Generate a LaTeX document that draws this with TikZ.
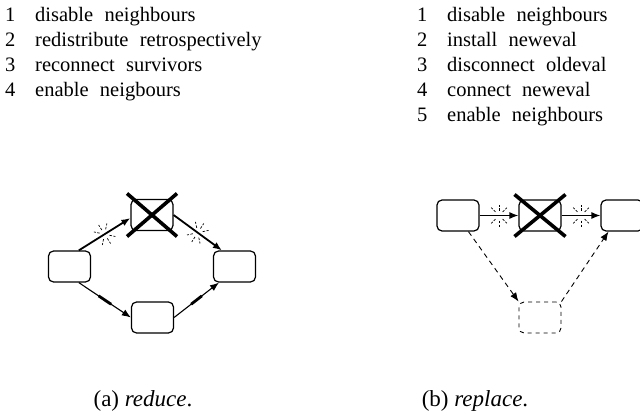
\documentclass[tikz,border=0pt]{standalone}
\usepackage{fontspec}
\setmainfont{Liberation Serif}
\usetikzlibrary{arrows.meta}
% sparks: #1 = centre, #2 = direction of the line
\newcommand\mysparks[2]{%
  \foreach \a in {45,90,135,225,270,315}
    \draw[sparkray] (#1) ++({#2+\a}:5pt) -- ++({#2+\a}:6pt);}
\newcommand\lstfont{\fontsize{20.5}{24}\selectfont\spaceskip=0.55em plus 0.1em\relax}
\begin{document}
\begin{tikzpicture}[x=1pt,y=-1pt,
  box/.style={draw,line width=1.2pt,rounded corners=5pt,minimum width=42pt,minimum height=31pt,inner sep=0pt},
  dbox/.style={box,line width=0.9pt,dash pattern=on 4pt off 4pt},
  xmark/.style={line width=3.6pt},
  conn/.style={line width=1.8pt,-{Latex[length=9pt,width=7pt]}},
  thinconn/.style={line width=1.1pt,-{Latex[length=9pt,width=7pt]}},
  dconn/.style={line width=0.9pt,dash pattern=on 5pt off 4pt,-{Latex[length=9pt,width=7pt]}},
  midbar/.style={line width=2.8pt},
  sparkray/.style={line width=0.7pt,dash pattern=on 2.5pt off 1.5pt},
  lst/.style={anchor=base west,inner sep=0pt,font=\lstfont},
  captext/.style={anchor=base,inner sep=0pt,font=\fontsize{23}{26}\selectfont}
]
\useasboundingbox (0,0) rectangle (640,417);

% ---- lists ----
\node[lst] (n1) at (5,22) {1};
\node[lst] (t1) at (35,22) {disable neighbours};
\node[lst] (n2) at (5,47) {2};
\node[lst] (t2) at (35,47) {redistribute retrospectively};
\node[lst] (n3) at (5,72) {3};
\node[lst] (t3) at (35,72) {reconnect survivors};
\node[lst] (n4) at (5,97) {4};
\node[lst] (t4) at (35,97) {enable neigbours};

\node[lst] (m1) at (417,22) {1};
\node[lst] (s1) at (447,22) {disable neighbours};
\node[lst] (m2) at (417,47) {2};
\node[lst] (s2) at (447,47) {install neweval};
\node[lst] (m3) at (417,72) {3};
\node[lst] (s3) at (447,72) {disconnect oldeval};
\node[lst] (m4) at (417,97) {4};
\node[lst] (s4) at (447,97) {connect neweval};
\node[lst] (m5) at (417,122) {5};
\node[lst] (s5) at (447,122) {enable neighbours};

% ---- (a) reduce ----
\node[box] (L1) at (69.5,266.5) {};
\node[box] (L2) at (152,215) {};
\node[box] (L3) at (234.5,266.5) {};
\node[box] (L4) at (152.5,317.5) {};

\draw[conn] (L1.60) -- coordinate[pos=0.5] (sp1) (L2.188);
\draw[conn] (L2.east) -- coordinate[pos=0.5] (sp2) (L3.128);
\mysparks{sp1}{33}
\mysparks{sp2}{-33}

\draw[thinconn] (L1.300) -- coordinate[pos=0.38] (b1a) coordinate[pos=0.62] (b1b) (L4.west);
\draw[midbar] (b1a) -- (b1b);
\draw[thinconn] (L4.east) -- coordinate[pos=0.38] (b2a) coordinate[pos=0.62] (b2b) (L3.226);
\draw[midbar] (b2a) -- (b2b);

\draw[xmark,shift={(L2.center)}] (-25,-21.5) -- (25,21.5);
\draw[xmark,shift={(L2.center)}] (-25,21.5) -- (25,-21.5);

% ---- (b) replace ----
\node[box] (R1) at (458,215.5) {};
\node[box] (R2) at (540,215.5) {};
\node[box] (R3) at (622,215.5) {};
\node[dbox] (R4) at (540,317.5) {};

\draw[line width=1.2pt,-{Latex[length=9pt,width=7pt]}] (R1.east) -- coordinate[pos=0.5] (sp3) (R2.west);
\draw[line width=1.2pt,-{Latex[length=9pt,width=7pt]}] (R2.east) -- coordinate[pos=0.5] (sp4) (R3.west);
\mysparks{sp3}{0}
\mysparks{sp4}{0}

\draw[dconn] (R1.303) -- (R4.north west);
\draw[dconn] (R4.north east) -- (R3.230);

\draw[xmark,shift={(R2.center)}] (-25.5,-21) -- (25.5,21);
\draw[xmark,shift={(R2.center)}] (-25.5,21) -- (25.5,-21);

% ---- captions ----
\node[captext] (ca) at (143,406) {(a) \textit{reduce}.};
\node[captext] (cb) at (475,406) {(b) \textit{replace}.};
\end{tikzpicture}
\end{document}
